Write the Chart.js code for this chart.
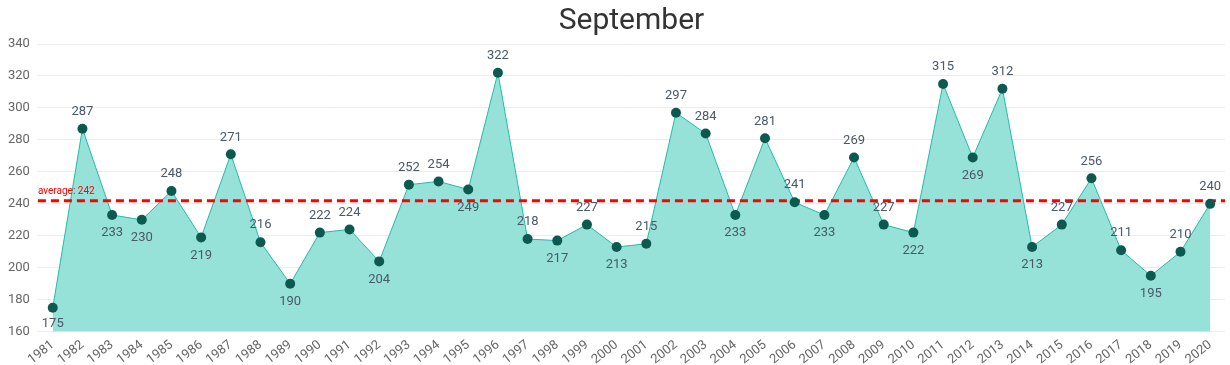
<!DOCTYPE html>
<html>
<head>
<meta charset="utf-8">
<script src="https://cdn.jsdelivr.net/npm/chart.js@4/dist/chart.umd.min.js"></script>
<style>
    html, body { margin: 0; padding: 0; background: #fff; }
    #wrap { width: 1230px; height: 365px; }
</style>
</head>
<body>
<div id="wrap"><canvas id="chart"></canvas></div>
<script>
// Dados
const years = ['1981','1982','1983','1984','1985','1986','1987','1988','1989','1990',
    '1991','1992','1993','1994','1995','1996','1997','1998','1999','2000',
    '2001','2002','2003','2004','2005','2006','2007','2008','2009','2010',
    '2011','2012','2013','2014','2015','2016','2017','2018','2019','2020'];
const values = [175, 287, 233, 230, 248, 219, 271, 216, 190, 222,
    224, 204, 252, 254, 249, 322, 218, 217, 227, 213,
    215, 297, 284, 233, 281, 241, 233, 269, 227, 222,
    315, 269, 312, 213, 227, 256, 211, 195, 210, 240];
const AVERAGE = 242;
const yTicks = [160, 180, 200, 220, 240, 260, 280, 300, 320, 340];

// onde fica o rótulo de cada ponto (b = abaixo, t = acima)
const labelSide = ('btbbtbttbt' + 'tbttbttbtb' + 'tttbttbttb' + 'tbtbtttbtt').split('');

const FONT = 'Roboto, "DejaVu Sans", sans-serif';

const avgLinePlugin = {
    id: 'avgLine',
    afterDatasetDraw(chart, args) {
        if (args.index !== 0) return;
        const { ctx, chartArea, scales } = chart;
        const y = scales.y.getPixelForValue(AVERAGE);
        ctx.save();
        ctx.strokeStyle = '#ff0000';
        ctx.lineWidth = 3;
        ctx.setLineDash([8, 5]);
        ctx.beginPath();
        ctx.moveTo(chartArea.left, y);
        ctx.lineTo(chartArea.right, y);
        ctx.stroke();
        ctx.setLineDash([]);
        ctx.fillStyle = '#ff0000';
        ctx.font = '10px ' + FONT;
        ctx.textAlign = 'left';
        ctx.textBaseline = 'bottom';
        ctx.fillText('average: ' + AVERAGE, chartArea.left, y - 4);
        ctx.restore();
    }
};

const pointLabelsPlugin = {
    id: 'pointLabels',
    afterDatasetsDraw(chart) {
        const { ctx, chartArea } = chart;
        const meta = chart.getDatasetMeta(1);
        ctx.save();
        ctx.fillStyle = '#4a5868';
        ctx.font = '13px ' + FONT;
        ctx.textAlign = 'center';
        ctx.textBaseline = 'middle';
        meta.data.forEach((pt, i) => {
            let y = labelSide[i] === 'b' ? pt.y + 18 : pt.y - 17;
            y = Math.min(y, chartArea.bottom - 8);
            ctx.fillText(String(values[i]), pt.x, y);
        });
        ctx.restore();
    }
};

new Chart(document.getElementById('chart'), {
    type: 'line',
    data: {
        labels: years,
        datasets: [
            {
                label: 'area',
                data: values,
                borderColor: '#22bba8',
                borderWidth: 1,
                backgroundColor: '#96e2d9',
                fill: 'start',
                tension: 0,
                pointRadius: 0,
                order: 2
            },
            {
                label: 'pontos',
                data: values,
                showLine: false,
                pointRadius: 5,
                pointBackgroundColor: '#0c5a4f',
                pointBorderColor: '#0c5a4f',
                pointBorderWidth: 0,
                order: 1
            }
        ]
    },
    options: {
        responsive: true,
        maintainAspectRatio: false,
        animation: false,
        layout: { padding: { left: 0, right: 2, top: 0, bottom: 0 } },
        scales: {
            x: {
                offset: true,
                grid: { display: false },
                border: { display: false },
                ticks: {
                    autoSkip: false,
                    minRotation: 38,
                    maxRotation: 38,
                    color: '#666',
                    font: { family: FONT, size: 13 },
                    padding: -2.5
                }
            },
            y: {
                min: yTicks[0],
                max: yTicks[yTicks.length - 1],
                afterBuildTicks: (scale) => { scale.ticks = yTicks.map(v => ({ value: v })); },
                grid: { color: '#ececec', lineWidth: 1, drawTicks: false },
                border: { display: false },
                ticks: {
                    color: '#666',
                    font: { family: FONT, size: 13 },
                    padding: 8
                }
            }
        },
        plugins: {
            legend: { display: false },
            tooltip: { enabled: false },
            title: {
                display: true,
                text: 'September',
                fullSize: false,
                color: '#333',
                font: { family: FONT, size: 30, weight: 'normal' },
                padding: { top: 3, bottom: 5 }
            }
        }
    },
    plugins: [avgLinePlugin, pointLabelsPlugin]
});
</script>
</body>
</html>
